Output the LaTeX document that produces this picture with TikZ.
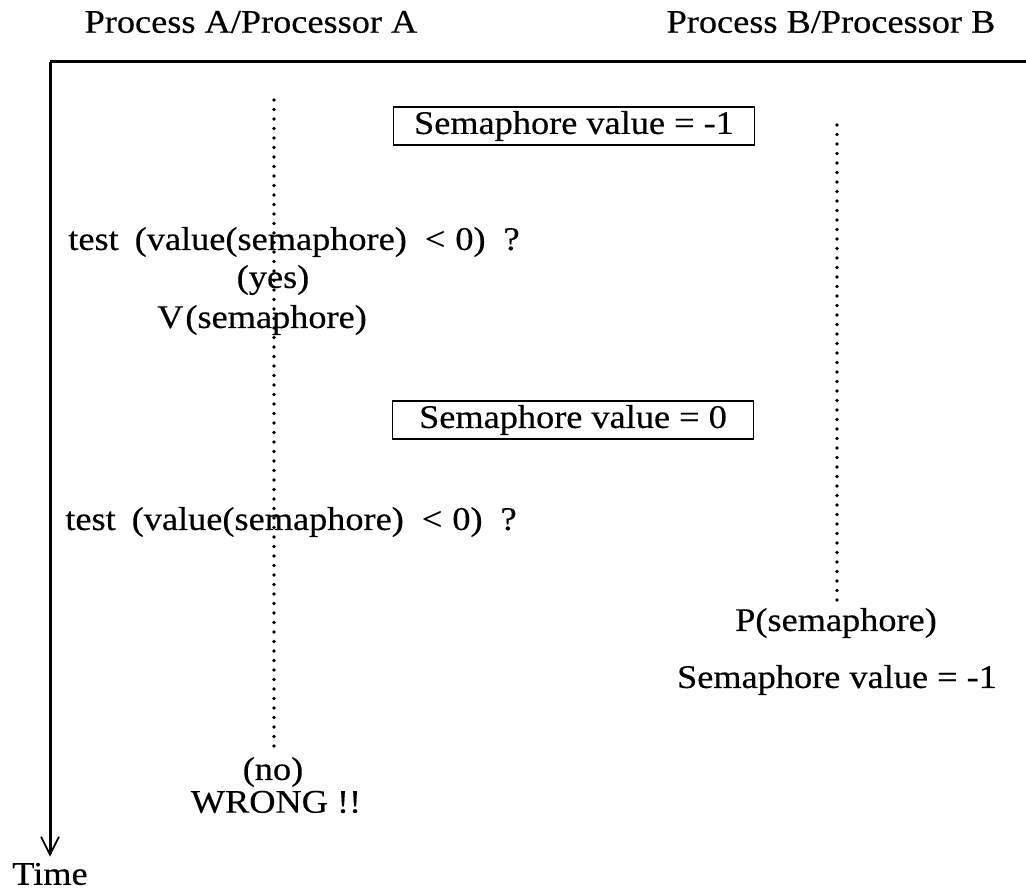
\documentclass[tikz,border=0pt]{standalone}
\usepackage{fontspec}
\setmainfont[FakeStretch=1.1, FakeBold=0.4]{Liberation Serif}
\usetikzlibrary{arrows.meta}

\begin{document}
\begin{tikzpicture}[x=1pt, y=-1pt,
			>={Straight Barb[length=18pt,width=18pt,line width=1.8pt]},   %Pfeilspitze
			txt/.style={font=\fontsize{33}{40}\selectfont, inner sep=0pt},
			wert/.style={txt, draw, line width=1.8pt, inner sep=4pt, minimum width=361pt, minimum height=36pt},
			punkte/.style={line width=3.6pt, line cap=round, dash pattern=on 0pt off 9.5pt}]
			\useasboundingbox (0,0) rectangle (1026,893);
			% Rahmen und Zeitachse
			\coordinate (ecke) at (50,62);
			\coordinate (rechts) at (1026,62);
			\node[txt] (zeit) at (50,874) {Time};
			\draw[line width=3pt] (rechts) -- (ecke);
			\draw[->, line width=3pt] (ecke) -- ([yshift=6pt]zeit.north);
			% Kopfzeile
			\node[txt] (procA) at (251,22) {Process A/Processor A};
			\node[txt] (procB) at (831,22) {Process B/Processor B};
			% Semaphorwerte
			\node[wert] (wert1) at (574,126) {Semaphore value = -1};
			\node[wert] (wert0) at (573,420) {Semaphore value = 0};
			% Prozess A
			\node[txt] (testA1) at (294,242) {test\hspace{16pt}(value(semaphore)\hspace{18pt}<\hspace{10pt}0)\hspace{18pt}?};
			\node[txt] (ja) at (273,280) {(yes)};
			\node[txt] (vsem) at (262,320) {V\hspace{2pt}(semaphore)};
			\node[txt] (testA2) at (291,522) {test\hspace{16pt}(value(semaphore)\hspace{18pt}<\hspace{10pt}0)\hspace{18pt}?};
			\node[txt] (nein) at (273,772) {(no)};
			\node[txt] (falsch) at (276,802) {WRONG !!};
			% Prozess B
			\node[txt] (psem) at (836,623) {P(semaphore)};
			\node[txt] (wertB) at (837,680) {Semaphore value = -1};
			% Lebenslinien
			\coordinate (aoben) at (274,100);
			\coordinate (boben) at (837,125);
			\draw[punkte] (aoben) -- ([yshift=6pt]nein.north -| aoben);
			\draw[punkte] (boben) -- ([yshift=4pt]psem.north -| boben);
		\end{tikzpicture}
\end{document}
